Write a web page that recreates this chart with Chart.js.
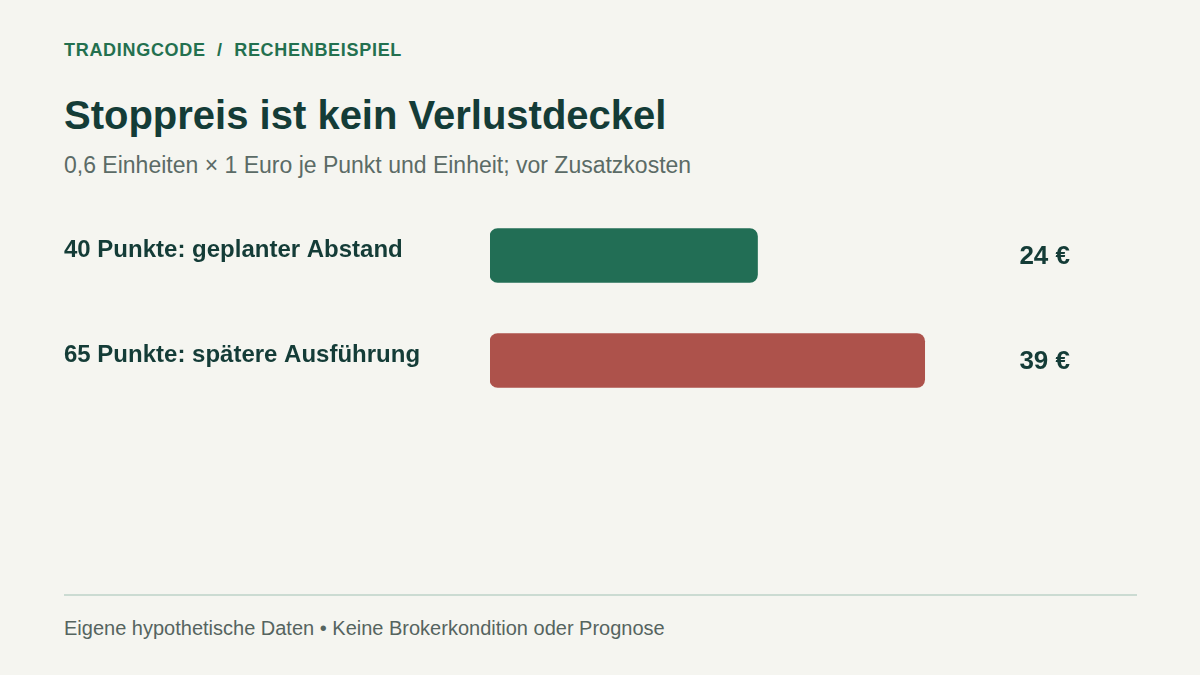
<!DOCTYPE html>
<html lang="de">
<head>
<meta charset="UTF-8">
<title>Stoppreis ist kein Verlustdeckel</title>
<script src="https://cdn.jsdelivr.net/npm/chart.js"></script>
<style>
  html, body { margin: 0; padding: 0; }
  body { width: 1200px; height: 675px; background: #f5f5f0; position: relative; overflow: hidden;
         font-family: "Liberation Sans", Arial, sans-serif; }
  .kicker { position: absolute; left: 64px; top: 40px; font-size: 18px; font-weight: bold;
            color: #23704f; letter-spacing: 0.7px; }
  h1 { position: absolute; left: 64px; top: 93px; margin: 0; font-size: 40px; font-weight: bold; color: #143c37; }
  .sub { position: absolute; left: 64px; top: 152px; font-size: 23px; color: #5b6b66; }
  .wrap { position: absolute; left: 0; top: 203px; width: 1200px; height: 210px; }
  .rule { position: absolute; left: 64px; top: 594px; width: 1073px; height: 2px; background: #cbdbd2; }
  .foot { position: absolute; left: 64px; top: 617px; font-size: 20px; color: #55645f; }
</style>
</head>
<body>
<div class="kicker">TRADINGCODE &nbsp;/&nbsp; RECHENBEISPIEL</div>
<h1>Stoppreis ist kein Verlustdeckel</h1>
<div class="sub">0,6 Einheiten × 1 Euro je Punkt und Einheit; vor Zusatzkosten</div>
<div class="wrap"><canvas id="grafico"></canvas></div>
<div class="rule"></div>
<div class="foot">Eigene hypothetische Daten • Keine Brokerkondition oder Prognose</div>
<script>
  const kategorien = ['40 Punkte: geplanter Abstand', '65 Punkte: spätere Ausführung']
  const verlust = [24, 39]
  const farben = ['#226e55', '#ad524b']
  const werteText = ['24 €', '39 €']

  const beschriftung = {
    id: 'beschriftung',
    afterDatasetsDraw(chart) {
      const ctx = chart.ctx
      const meta = chart.getDatasetMeta(0)
      ctx.save()
      ctx.fillStyle = '#143c37'
      ctx.textBaseline = 'middle'
      meta.data.forEach((bar, i) => {
        ctx.font = 'bold 24px "Liberation Sans", Arial, sans-serif'
        ctx.textAlign = 'left'
        ctx.fillText(kategorien[i], 64, bar.y - 5)
        ctx.font = 'bold 26px "Liberation Sans", Arial, sans-serif'
        ctx.textAlign = 'right'
        ctx.fillText(werteText[i], 1070, bar.y + 1)
      })
      ctx.restore()
    }
  }

  new Chart(
    grafico,
    {
      type: 'bar',
      data: {
        labels: kategorien,
        datasets: [{
          data: verlust,
          backgroundColor: farben,
          borderRadius: 8,
          borderSkipped: false,
          barThickness: 54,
        }]
      },
      options: {
        indexAxis: 'y',
        responsive: true,
        maintainAspectRatio: false,
        animation: false,
        layout: { padding: { left: 490, right: 175, top: 0, bottom: 0 } },
        scales: {
          x: { display: false, min: 0, max: 48 },
          y: { display: false }
        },
        plugins: { legend: { display: false }, tooltip: { enabled: false } }
      },
      plugins: [beschriftung]
    }
  )
</script>
</body>
</html>
